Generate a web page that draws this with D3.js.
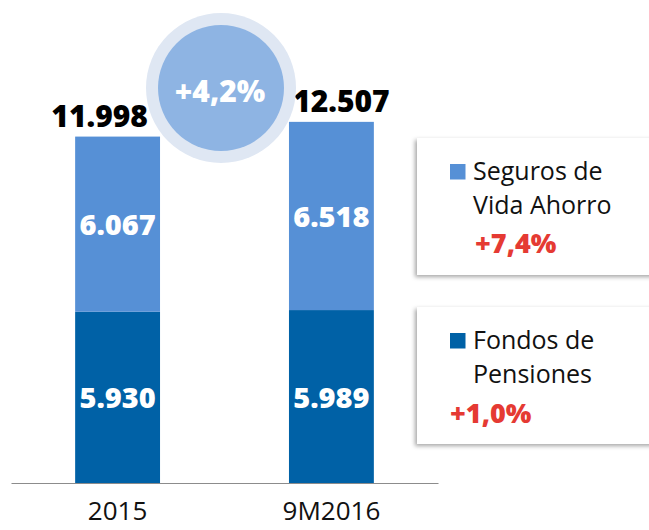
<!DOCTYPE html>
<html><head><meta charset="utf-8">
<script src="https://cdn.jsdelivr.net/npm/d3@7"></script>
<style>body{margin:0;background:#fff}svg{display:block}</style>
</head><body>
<script>
const categories = ["2015", "9M2016"];
const fondos = [5930, 5989];
const seguros = [6067, 6518];
const totals = [11998, 12507];
const growthTotal = "+4,2%";
const seriesNames = ["Fondos de Pensiones", "Seguros de Vida Ahorro"];
const legendLines = [["Seguros de", "Vida Ahorro"], ["Fondos de", "Pensiones"]];
const legendChanges = ["+7,4%", "+1,0%"];
const fmt = v => d3.format(",")(v).replace(/,/g, ".");

const W = 649, H = 530;
const colDark = "#0061a6", colLight = "#5690d6";
const svg = d3.select("body").append("svg").attr("width", W).attr("height", H);
const defs = svg.append("defs");
const f = defs.append("filter").attr("id", "sh").attr("x", "-10%").attr("y", "-10%").attr("width", "130%").attr("height", "130%");
f.append("feDropShadow").attr("dx", -2).attr("dy", 2).attr("stdDeviation", 2).attr("flood-color", "#000").attr("flood-opacity", 0.35);

const x = d3.scaleBand().domain(categories).range([11, 438]).paddingInner(0.603).paddingOuter(0.3);
const y = d3.scaleLinear().domain([0, 16000]).range([483, 21]);

const table = categories.map((c, i) => ({cat: c, fondos: fondos[i], seguros: seguros[i]}));
const stack = d3.stack().keys(["fondos", "seguros"])(table);
const colors = {fondos: colDark, seguros: colLight};

const g = svg.append("g");
stack.forEach(layer => {
  g.selectAll(null).data(layer).enter().append("rect")
    .attr("x", d => x(d.data.cat))
    .attr("width", x.bandwidth())
    .attr("y", d => y(d[1]))
    .attr("height", d => y(d[0]) - y(d[1]))
    .attr("fill", colors[layer.key]);
  g.selectAll(null).data(layer).enter().append("text")
    .attr("x", d => x(d.data.cat) + x.bandwidth() / 2)
    .attr("y", d => (y(d[0]) + y(d[1])) / 2 + 11)
    .attr("text-anchor", "middle")
    .attr("fill", "#fff")
    .style("font", "800 29px 'Open Sans'")
    .text(d => fmt(d.data[layer.key]));
});

// axis
const ax = svg.append("g").attr("transform", `translate(0,${y(0)})`)
  .call(d3.axisBottom(x).tickSize(0).tickPadding(19));
ax.select(".domain").attr("stroke", "#8c8c8c").attr("stroke-width", 1.2);
ax.selectAll("text").style("font-family", "'Open Sans'").style("font-size", "26px").attr("fill", "#111");

// totals
const offs = [-18, 10];
svg.selectAll(null).data(totals).enter().append("text")
  .attr("x", (d, i) => x(categories[i]) + x.bandwidth() / 2 + offs[i])
  .attr("y", d => y(d) - 10)
  .attr("text-anchor", "middle")
  .attr("fill", "#000")
  .style("font", "800 30px 'Open Sans'")
  .text(d => fmt(d));

// growth circle
const cx = 221, cy = 88;
svg.append("circle").attr("cx", cx).attr("cy", cy).attr("r", 75).attr("fill", "#dfe7f3");
svg.append("circle").attr("cx", cx).attr("cy", cy).attr("r", 63).attr("fill", "#8eb4e3");
svg.append("text").attr("x", cx - 1).attr("y", 101.5).attr("text-anchor", "middle")
  .attr("fill", "#fff").style("font", "800 30px 'Open Sans'").text(growthTotal);

// legend boxes
const boxes = [
  {y: 138, color: colLight, sqY: 164, lines: legendLines[0], ly: [180, 214], change: legendChanges[0], cxp: 475, cy: 253},
  {y: 307, color: colDark, sqY: 333, lines: legendLines[1], ly: [349, 383], change: legendChanges[1], cxp: 450, cy: 423}
];
boxes.forEach(b => {
  svg.append("rect").attr("x", 417).attr("y", b.y).attr("width", 260).attr("height", 137)
    .attr("fill", "#fff").attr("filter", "url(#sh)");
  svg.append("rect").attr("x", 450).attr("y", b.sqY).attr("width", 15.5).attr("height", 15.5).attr("fill", b.color);
  b.lines.forEach((t, i) => {
    svg.append("text").attr("x", 473).attr("y", b.ly[i]).attr("fill", "#111")
      .style("font", "25px 'Open Sans'").text(t);
  });
  svg.append("text").attr("x", b.cxp).attr("y", b.cy).attr("fill", "#e53a33")
    .style("font", "800 27px 'Open Sans'").text(b.change);
});
</script>
</body></html>
